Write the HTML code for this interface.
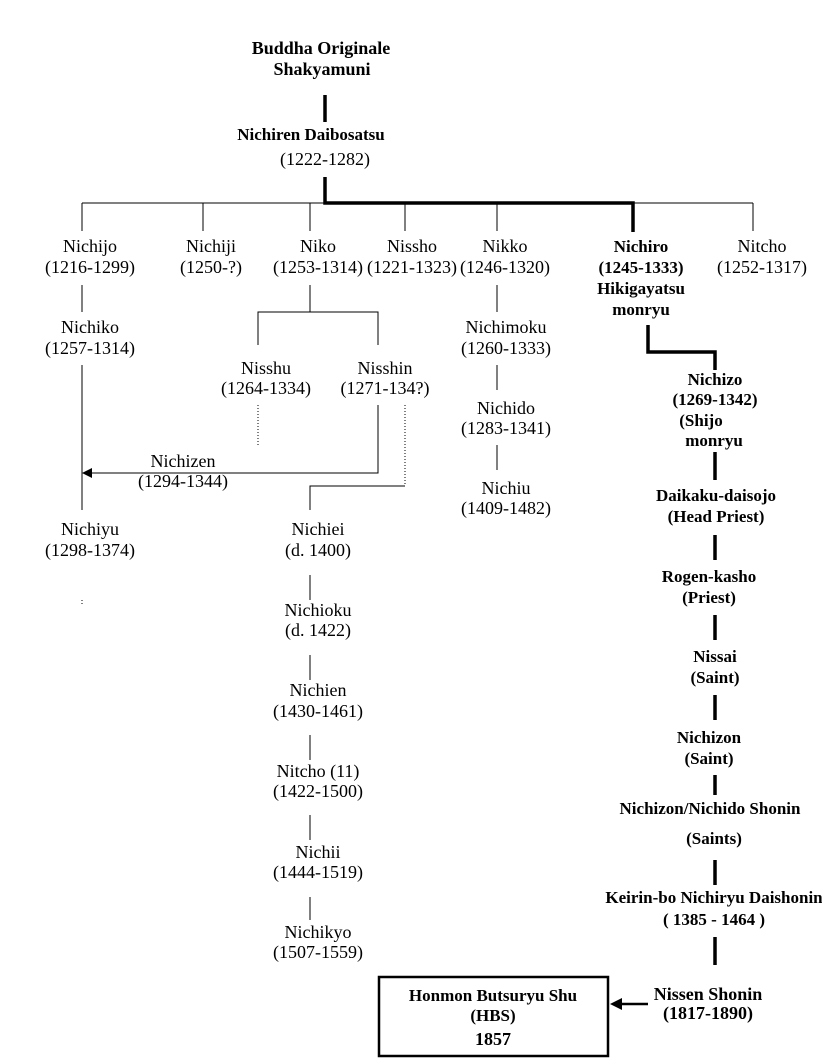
<!DOCTYPE html>
<html><head><meta charset="utf-8"><style>
html,body{margin:0;padding:0;background:#fff;}
svg{display:block;}
text{font-family:"Liberation Serif",serif;font-size:18px;fill:#000;text-anchor:middle;}
.b{font-weight:bold;font-size:17px;}
.t{stroke:#000;stroke-width:1;fill:none;}
.k{stroke:#000;stroke-width:3.5;fill:none;}
.d{stroke:#000;stroke-width:1;stroke-dasharray:1,2;fill:none;}
</style></head><body>
<svg width="822" height="1059" viewBox="0 0 822 1059">
<text class="b" x="321" y="54" style="font-size:18px">Buddha Originale</text>
<text class="b" x="322" y="75" style="font-size:18px">Shakyamuni</text>
<line class="k" x1="325" y1="95" x2="325" y2="122"/>
<text class="b" x="311" y="140">Nichiren Daibosatsu</text>
<text x="325" y="165">(1222-1282)</text>
<path class="t" d="M82 203H753M82 203V231M203 203V231M310 203V231M405 203V231M497 203V231M753 203V231"/>
<path class="k" d="M325 177V203H633V232"/>
<text x="90" y="252">Nichijo</text><text x="90" y="273">(1216-1299)</text>
<text x="211" y="252">Nichiji</text><text x="211" y="273">(1250-?)</text>
<text x="318" y="252">Niko</text><text x="318" y="273">(1253-1314)</text>
<text x="412" y="252">Nissho</text><text x="412" y="273">(1221-1323)</text>
<text x="505" y="252">Nikko</text><text x="505" y="273">(1246-1320)</text>
<text class="b" x="641" y="252">Nichiro</text><text class="b" x="641" y="273">(1245-1333)</text>
<text class="b" x="641" y="294">Hikigayatsu</text><text class="b" x="641" y="315">monryu</text>
<text x="762" y="252">Nitcho</text><text x="762" y="273">(1252-1317)</text>
<path class="t" d="M82 285V312M82 365V510"/>
<text x="90" y="333">Nichiko</text><text x="90" y="354">(1257-1314)</text>
<path class="t" d="M310 285V312M258 345V312H378V345"/>
<text x="266" y="374">Nisshu</text><text x="266" y="394">(1264-1334)</text>
<text x="385" y="374">Nisshin</text><text x="385" y="394">(1271-134?)</text>
<path class="d" d="M258 405V445M405 405V486"/>
<path class="t" d="M378 405V473H90"/>
<polygon points="82,473 92,468 92,478" fill="#000"/>
<text x="183" y="467">Nichizen</text><text x="183" y="487">(1294-1344)</text>
<path class="t" d="M405 486H310V510"/>
<text x="90" y="535">Nichiyu</text><text x="90" y="556">(1298-1374)</text>
<path class="d" d="M82 600V606"/>
<text x="318" y="535">Nichiei</text><text x="318" y="556">(d. 1400)</text>
<path class="t" d="M310 575V600M310 655V680M310 735V760M310 815V840M310 897V920"/>
<text x="318" y="616">Nichioku</text><text x="318" y="636">(d. 1422)</text>
<text x="318" y="696">Nichien</text><text x="318" y="717">(1430-1461)</text>
<text x="318" y="777">Nitcho (11)</text><text x="318" y="797">(1422-1500)</text>
<text x="318" y="858">Nichii</text><text x="318" y="878">(1444-1519)</text>
<text x="318" y="938">Nichikyo</text><text x="318" y="958">(1507-1559)</text>
<path class="t" d="M497 285V312M497 365V390M497 445V470"/>
<text x="506" y="333">Nichimoku</text><text x="506" y="354">(1260-1333)</text>
<text x="506" y="414">Nichido</text><text x="506" y="434">(1283-1341)</text>
<text x="506" y="494">Nichiu</text><text x="506" y="514">(1409-1482)</text>
<path class="k" d="M648 325V352H715V370"/>
<text class="b" x="715" y="385">Nichizo</text><text class="b" x="715" y="405">(1269-1342)</text>
<text class="b" x="701" y="426">(Shijo</text><text class="b" x="714" y="446">monryu</text>
<path class="k" d="M715 452V480M715 535V560M715 615V640M715 695V720M715 775V795M715 860V885M715 937V965"/>
<text class="b" x="716" y="501">Daikaku-daisojo</text><text class="b" x="716" y="522">(Head Priest)</text>
<text class="b" x="709" y="582">Rogen-kasho</text><text class="b" x="709" y="603">(Priest)</text>
<text class="b" x="715" y="662">Nissai</text><text class="b" x="715" y="683">(Saint)</text>
<text class="b" x="709" y="743">Nichizon</text><text class="b" x="709" y="764">(Saint)</text>
<text class="b" x="710" y="814">Nichizon/Nichido Shonin</text><text class="b" x="714" y="844">(Saints)</text>
<text class="b" x="714" y="903">Keirin-bo Nichiryu Daishonin</text><text class="b" x="714" y="925">( 1385 - 1464 )</text>
<text class="b" x="708" y="1000" style="font-size:18px">Nissen Shonin</text><text class="b" x="708" y="1019" style="font-size:18px">(1817-1890)</text>
<rect x="379" y="977" width="229" height="79" fill="none" stroke="#000" stroke-width="2.5"/>
<text class="b" x="493" y="1001">Honmon Butsuryu Shu</text>
<text class="b" x="493" y="1021">(HBS)</text>
<text class="b" x="493" y="1045" style="font-size:18px">1857</text>
<path class="k" d="M648 1004H620" style="stroke-width:2.5"/>
<polygon points="610,1004 622,998 622,1010" fill="#000"/>
</svg>
</body></html>
